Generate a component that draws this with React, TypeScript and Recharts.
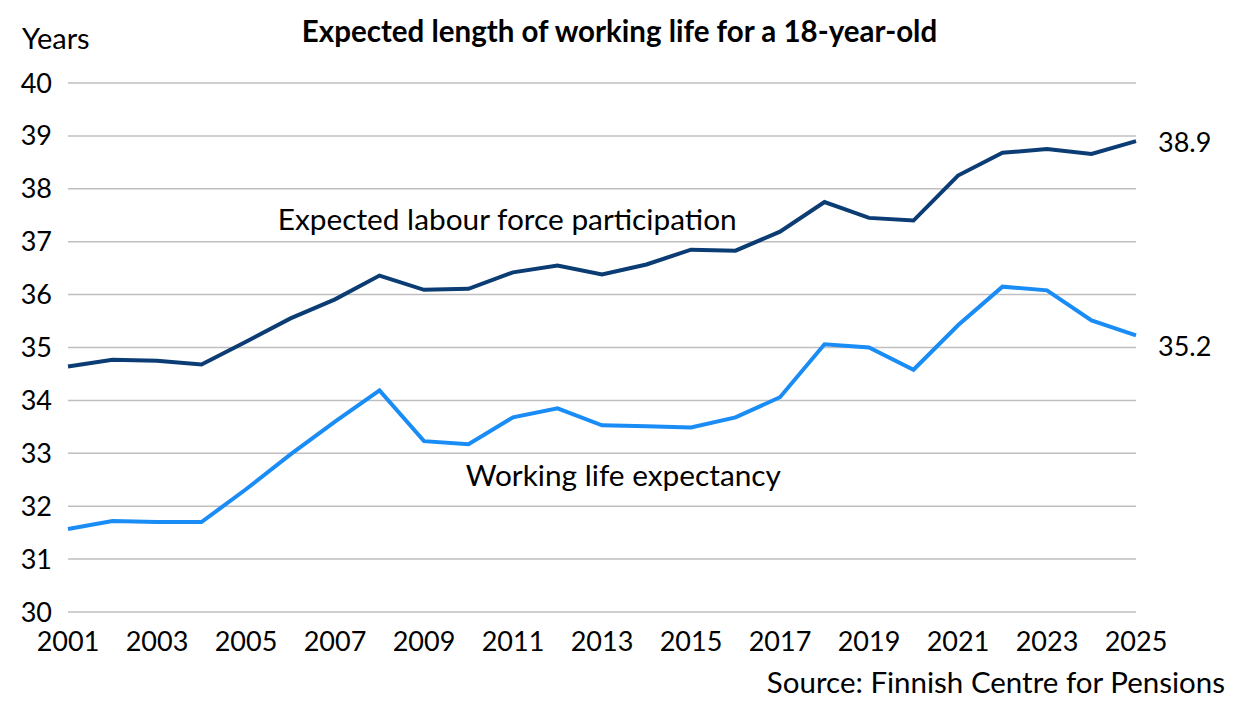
import React from "react";
import {
  LineChart,
  Line,
  XAxis,
  YAxis,
  CartesianGrid,
  ReferenceDot,
  LabelList,
} from "recharts";

const years = [
  2001, 2002, 2003, 2004, 2005, 2006, 2007, 2008, 2009, 2010, 2011, 2012, 2013,
  2014, 2015, 2016, 2017, 2018, 2019, 2020, 2021, 2022, 2023, 2024, 2025,
];
const labourForce = [
  34.64, 34.77, 34.75, 34.68, 35.11, 35.55, 35.91, 36.36, 36.09, 36.11, 36.42,
  36.55, 36.38, 36.57, 36.85, 36.83, 37.19, 37.75, 37.45, 37.4, 38.25, 38.68,
  38.75, 38.66, 38.9,
];
const workingLife = [
  31.57, 31.72, 31.7, 31.7, 32.32, 32.98, 33.6, 34.19, 33.23, 33.17, 33.68,
  33.85, 33.53, 33.51, 33.49, 33.68, 34.06, 35.06, 35.0, 34.58, 35.42, 36.15,
  36.08, 35.51, 35.23,
];
const xTicks = [2001, 2003, 2005, 2007, 2009, 2011, 2013, 2015, 2017, 2019, 2021, 2023, 2025];
const yTicks = [30, 31, 32, 33, 34, 35, 36, 37, 38, 39, 40];

const data = years.map((y, i) => ({
  year: y,
  labour: labourForce[i],
  working: workingLife[i],
}));

const FONT = "Lato, 'Open Sans', sans-serif";
const DARK = "#0b3d74";
const LIGHT = "#1a8cf5";

const endLabel = (dy: number) => (props: any) => {
  const { x, y, value, index } = props;
  if (index !== data.length - 1) return null;
  return (
    <text
      x={x + 22}
      y={y + dy}
      dominantBaseline="central"
      fontFamily={FONT}
      fontSize={27}
      fill="#000"
    >
      {Number(value).toFixed(1)}
    </text>
  );
};

export default function App() {
  return (
    <div
      style={{
        margin: "-8px 0 0 -8px",
        width: 1233,
        height: 705,
        position: "relative",
        background: "#fff",
        fontFamily: FONT,
      }}
    >
      <div
        style={{
          position: "absolute",
          left: 0,
          width: 1233,
          top: 13,
          textAlign: "center",
          fontWeight: 700,
          fontSize: 29.5,
          color: "#000",
          paddingLeft: 3,
        }}
      >
        Expected length of working life for a 18-year-old
      </div>
      <div style={{ position: "absolute", left: 22, top: 20, fontSize: 29, color: "#000" }}>
        Years
      </div>
      <div
        style={{ position: "absolute", right: 8, top: 664, fontSize: 29.5, color: "#000" }}
      >
        Source: Finnish Centre for Pensions
      </div>
      <LineChart
        width={1233}
        height={705}
        data={data}
        margin={{ top: 83, right: 97, bottom: 43, left: 0 }}
      >
        <CartesianGrid vertical={false} stroke="#bfbfbf" strokeWidth={1.5} />
        <XAxis
          dataKey="year"
          type="number"
          domain={[2001, 2025]}
          ticks={xTicks}
          axisLine={false}
          tickLine={false}
          height={50}
          tickMargin={14}
          tick={{ fontFamily: FONT, fontSize: 27, fill: "#000" }}
          interval={0}
        />
        <YAxis
          domain={[30, 40]}
          ticks={yTicks}
          width={68}
          axisLine={false}
          tickLine={false}
          tickMargin={10}
          tick={{ fontFamily: FONT, fontSize: 27, fill: "#000" }}
        />
        <Line
          dataKey="labour"
          stroke={DARK}
          strokeWidth={4}
          dot={false}
          isAnimationActive={false}
        >
          <LabelList dataKey="labour" content={endLabel(0)} />
        </Line>
        <Line
          dataKey="working"
          stroke={LIGHT}
          strokeWidth={4}
          dot={false}
          isAnimationActive={false}
        >
          <LabelList dataKey="working" content={endLabel(10)} />
        </Line>
        <ReferenceDot
          x={2010.87}
          y={37.43}
          r={0}
          fill="none"
          stroke="none"
          label={{
            value: "Expected labour force participation",
            position: "center",
            fontFamily: FONT,
            fontSize: 29.8,
            fill: "#000",
          }}
        />
        <ReferenceDot
          x={2013.48}
          y={32.59}
          r={0}
          fill="none"
          stroke="none"
          label={{
            value: "Working life expectancy",
            position: "center",
            fontFamily: FONT,
            fontSize: 29.8,
            fill: "#000",
          }}
        />
      </LineChart>
    </div>
  );
}
